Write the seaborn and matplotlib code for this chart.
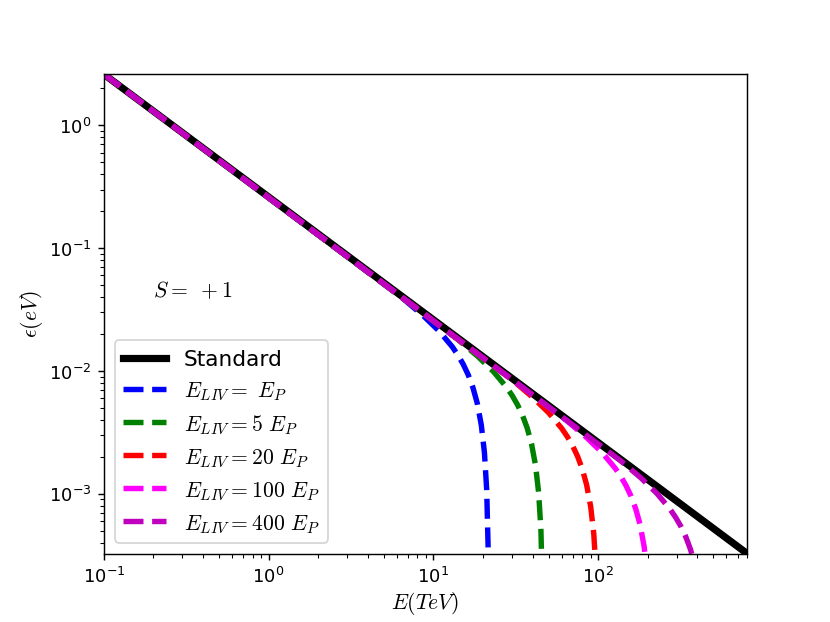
import numpy as np
import matplotlib.pyplot as plt
import seaborn as sns

# fuentes matematicas tipo LaTeX
plt.rcParams['mathtext.fontset'] = 'cm'

# Curva estandar: umbral eps vs E
E_std = [0.1, 1, 10, 100, 800]
eps_std = [2.61, 0.261, 0.0261, 0.00261, 0.000326]

# Curvas LIV (S = +1)
E_1 = [0.1, 6.51, 8.68, 10.85, 13.02, 14.11, 15.19, 16.28, 17.36, 18.45, 19.53,
       20.40, 21.05, 21.48, 21.68]
eps_1 = [2.61, 0.03901, 0.02815, 0.02105, 0.01572, 0.01341, 0.01129, 0.009266,
         0.007336, 0.005461, 0.003622, 0.002162, 0.001082, 0.000361, 0.0000361]

E_5 = [0.1, 13.89, 18.52, 23.15, 27.78, 30.10, 32.41, 34.73, 37.04, 39.36, 41.67,
       43.52, 44.91, 45.84, 46.25]
eps_5 = [2.61, 0.01828, 0.01319, 0.009865, 0.007366, 0.006287, 0.005291, 0.004344,
         0.003439, 0.00256, 0.001697, 0.001014, 0.000507, 0.000169, 0.0000169]

E_20 = [0.1, 30, 40, 50, 60, 65, 70, 75, 80, 85, 90, 94, 97, 99, 99.9]
eps_20 = [2.61, 0.008465, 0.006107, 0.004568, 0.003410, 0.002911, 0.00245, 0.002011,
          0.001592, 0.001185, 0.000786, 0.000469, 0.000235, 0.0000783, 0.0000078]

E_100 = [0.1, 63.3, 84.4, 105.5, 126.6, 137.2, 147.7, 158.3, 168.8, 179.4, 189.9,
         198.3, 204.7, 208.9, 210.8]
eps_100 = [2.61, 0.004012, 0.002894, 0.002165, 0.001616, 0.001379, 0.001161, 0.000953,
           0.000755, 0.000562, 0.000372, 0.000222, 0.000111, 0.0000371, 0.0000037]

E_400 = [0.1, 136.2, 181.6, 227, 272.4, 295.1, 317.8, 340.5, 363.2, 385.9, 408.6,
         426.8, 440.4, 449.5, 453.5]
eps_400 = [2.61, 0.001865, 0.001345, 0.001006, 0.000751, 0.000641, 0.000540, 0.000443,
           0.000351, 0.000261, 0.000173, 0.000103, 0.0000517, 0.0000172, 0.0000017]

etiquetas = [r'$E_{LIV}=\ E_P$', r'$E_{LIV}=5\ E_P$', r'$E_{LIV}=20\ E_P$',
             r'$E_{LIV}=100\ E_P$', r'$E_{LIV}=400\ E_P$']
colores = ['b', 'g', 'r', 'magenta', 'm']

fig, ax = plt.subplots(figsize=(6.4, 4.8))

sns.lineplot(x=E_std, y=eps_std, color='black', lw=4, label='Standard', ax=ax)

curvas = [(E_1, eps_1), (E_5, eps_5), (E_20, eps_20), (E_100, eps_100), (E_400, eps_400)]
for (x, y), lab, c in zip(curvas, etiquetas, colores):
    sns.lineplot(x=x, y=y, color=c, lw=3, linestyle='--', label=lab, ax=ax)

ax.set_xscale('log')
ax.set_yscale('log')
ax.set_xlim(0.1, 800)
ax.set_ylim(0.000326, 2.61)
ax.set_xlabel(r'$E(TeV)$', fontsize=12, labelpad=2)
ax.set_ylabel(r'$\epsilon(eV)$', fontsize=12, labelpad=2)
ax.text(0.2, 0.04, r'$S=\ +1$', fontsize=12)
ax.legend(loc='lower left', fontsize=12)

fig.savefig('out.png', dpi=129.7)
